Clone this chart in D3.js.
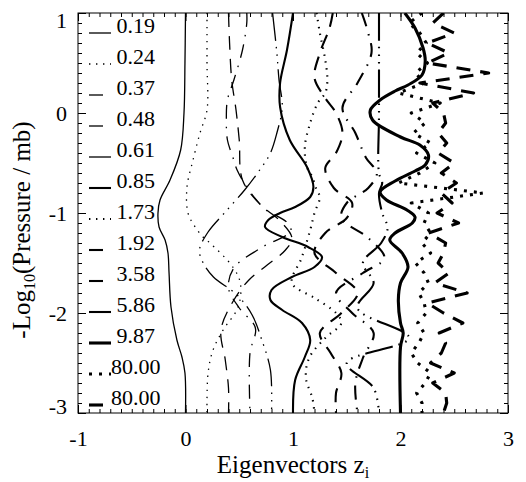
<!DOCTYPE html>
<html>
<head>
<meta charset="utf-8">
<script src="https://cdn.jsdelivr.net/npm/d3@7"></script>
<style>
  body { margin: 0; background: #fff; }
  svg text { font-family: "Liberation Serif", "Tinos", "DejaVu Serif", "Times New Roman", serif; }
</style>
</head>
<body>
<svg id="chart" width="526" height="482"></svg>
<script>
// eigenvalues shown in the legend, one per curve
const eigenvalues = [0.19, 0.24, 0.37, 0.48, 0.61, 0.85, 1.73, 1.92, 3.58, 5.86, 9.87, 80.00, 80.00]
// horizontal offset added to each eigenvector
const offsets = [0, 0.2, 0.4, 0.6, 0.8, 1.0, 1.2, 1.4, 1.6, 1.8, 2.0, 2.2, 2.4]

const xTicks = [-1, 0, 1, 2, 3]
const yTicks = [1, 0, -1, -2, -3]

// smooth eigenvectors: [-log10(p), z]
const ev0 = [[1,0],[0.5,-0.005],[0,-0.014],[-0.37,-0.045],[-0.67,-0.144],[-0.87,-0.237],[-1.0,-0.256],[-1.14,-0.246],[-1.27,-0.19],[-1.4,-0.163],[-1.6,-0.153],[-1.94,-0.135],[-2.27,-0.08],[-2.44,-0.033],[-2.6,-0.005],[-3,0]]
const ev1 = [[1,0],[0.5,0],[0.03,0],[-0.2,-0.065],[-0.47,-0.13],[-0.74,-0.186],[-1.0,-0.177],[-1.14,-0.11],[-1.24,-0.037],[-1.3,0.028],[-1.54,0.24],[-1.7,0.31],[-1.94,0.29],[-2.17,0.15],[-2.37,0.056],[-2.6,0.01],[-3,0]]
const ev2 = [[1,0],[0.7,0.01],[0.33,0.03],[0.03,0.07],[-0.27,0.1],[-0.67,0.13],[-0.92,0.3],[-1.07,0.47],[-1.25,0.59],[-1.37,0.53],[-1.52,0.36],[-1.67,0.19],[-1.87,0.05],[-2.17,-0.07],[-2.47,-0.03],[-2.75,0],[-3,0]]
const ev3 = [[1,-0.03],[0.9,-0.03],[0.63,-0.07],[0.33,-0.15],[0.13,-0.21],[-0.07,-0.22],[-0.27,-0.21],[-0.44,-0.16],[-0.57,-0.12],[-0.74,-0.03],[-0.87,0.06],[-0.97,0.15],[-1.09,0.34],[-1.18,0.38],[-1.35,0.1],[-1.55,-0.15],[-1.75,-0.2],[-1.95,-0.1],[-2.15,0.05],[-2.4,0.0],[-3,0]]
const ev4 = [[1,0.01],[0.6,0.05],[0.33,0.07],[0.06,0.1],[-0.2,0.05],[-0.4,-0.01],[-0.57,-0.11],[-0.77,-0.25],[-0.99,-0.43],[-1.19,-0.59],[-1.37,-0.67],[-1.49,-0.64],[-1.64,-0.54],[-1.82,-0.32],[-2.02,-0.18],[-2.27,-0.09],[-2.57,-0.01],[-3,0]]
const ev5 = [[1,0],[0.63,-0.056],[0.3,-0.12],[0.06,-0.12],[-0.27,-0.03],[-0.54,0.13],[-0.74,0.19],[-0.84,0.16],[-0.94,0.02],[-1.0,-0.12],[-1.07,-0.23],[-1.14,-0.26],[-1.24,-0.1],[-1.34,0.14],[-1.44,0.27],[-1.54,0.2],[-1.64,-0.01],[-1.77,-0.2],[-1.87,-0.21],[-1.97,-0.1],[-2.1,0.084],[-2.27,0.16],[-2.44,0.11],[-2.67,0.02],[-3,0]]
const ev6 = [[1,0.02],[0.8,0.05],[0.53,0.1],[0.33,0.12],[0.2,0.1],[0.1,0.03],[-0.1,-0.04],[-0.34,-0.09],[-0.54,-0.07],[-0.64,-0.02],[-0.77,0.02],[-0.84,0.05],[-1.0,0.0],[-1.17,-0.04],[-1.45,-0.12],[-1.7,-0.21],[-1.85,0.0],[-2.0,0.2],[-2.1,0.25],[-2.25,0.1],[-2.45,-0.05],[-2.65,-0.08],[-2.85,-0.02],[-3,0]]
const ev7 = [[1,-0.03],[0.85,-0.06],[0.6,-0.15],[0.35,-0.2],[0.15,-0.1],[0,0.0],[-0.2,0.06],[-0.4,0.0],[-0.55,-0.1],[-0.75,-0.02],[-0.9,0.15],[-1.05,0.1],[-1.2,-0.1],[-1.4,-0.2],[-1.6,0.0],[-1.8,0.2],[-2.0,0.05],[-2.2,-0.15],[-2.4,-0.05],[-2.6,0.05],[-2.8,0],[-3,0]]
const ev8 = [[1,0.04],[0.8,0.1],[0.6,0.13],[0.3,0.0],[0.05,-0.14],[-0.2,-0.02],[-0.45,0.08],[-0.6,0.18],[-0.75,0.1],[-0.9,-0.1],[-1.05,-0.15],[-1.25,0.1],[-1.45,0.25],[-1.6,0.05],[-1.8,-0.2],[-2.0,-0.05],[-2.2,0.15],[-2.45,0.05],[-2.7,-0.02],[-3,0]]
const ev9 = [[1,0],[0,0],[-0.6,0.0],[-0.7,0.03],[-0.8,0.0],[-1.0,0.03],[-1.15,0.08],[-1.3,0.02],[-1.5,-0.15],[-1.7,-0.05],[-1.95,-0.2],[-2.25,0.28],[-2.5,-0.3],[-2.75,-0.05],[-3,0]]
const ev10 = [[1,0.04],[0.85,0.135],[0.65,0.21],[0.52,0.23],[0.38,0.2],[0.28,0.07],[0.22,-0.05],[0.13,-0.19],[0.03,-0.28],[-0.07,-0.26],[-0.24,0.0],[-0.32,0.18],[-0.42,0.26],[-0.52,0.23],[-0.58,0.135],[-0.68,-0.05],[-0.79,-0.19],[-0.87,-0.13],[-0.97,0.06],[-1.04,0.135],[-1.1,0.11],[-1.2,-0.05],[-1.27,-0.1],[-1.4,0.015],[-1.54,0.07],[-1.7,0.0],[-1.87,-0.02],[-2.1,0.0],[-2.2,0.025],[-2.34,0.0],[-3,0]]

// the two largest eigenvalues: values on every 0.1 level in -log p, from 1 down to -3
const ev11 = [0.0,-0.12,-0.02,0.04,-0.05,0.05,-0.06,0.02,-0.22,0.17,-0.1,0.03,-0.08,0.08,-0.05,0.12,-0.02,-0.22,0.57,-0.1,0.06,0.02,0.08,0.0,0.08,-0.06,0.02,0.06,-0.03,0.02,0.04,-0.04,0.02,-0.03,-0.1,-0.04,0.08,0.03,-0.05,0.0,0.0]
const ev12 = [0.0,-0.1,0.1,-0.15,0.05,-0.15,0.42,-0.22,0.28,-0.1,0.0,0.02,-0.05,0.03,-0.05,0.1,-0.02,0.12,-0.02,0.08,-0.06,0.14,-0.14,0.02,0.0,-0.05,0.05,-0.08,0.22,-0.15,0.0,0.18,-0.04,0.02,-0.02,-0.12,0.1,-0.1,0.02,0.03,0.0]
const levels = d3.range(0, ev11.length).map(k => 1 - 0.1 * k)

const curves = [ev0, ev1, ev2, ev3, ev4, ev5, ev6, ev7, ev8, ev9, ev10,
  ev11.map((v, k) => [levels[k], v]), ev12.map((v, k) => [levels[k], v])]

// IDL style linestyles: solid, dotted, dashed, dash-dot, dash-dot-dot-dot
const dashThin = [null, "1.4,5.6", "14,9", "14,8,1.5,8", "28,6,1.5,6,1.5,6,1.5,6"]
const dashThick = [null, "3,7", "14,10"]
const widths = [1.3, 2.1, 3.1]

function styleOf(i) {
  const group = Math.floor(i / 5)
  const dash = group === 2 ? dashThick[i % 5] : dashThin[i % 5]
  return {dash: dash, width: widths[group]}
}

const svg = d3.select("#chart")
const x = d3.scaleLinear().domain([-1, 3]).range([78, 508])
const y = d3.scaleLinear().domain([-3, 1]).range([413, 13])

const font = "Liberation Serif, Tinos, DejaVu Serif, Times New Roman, serif"

// curves
svg.append("clipPath").attr("id", "plotclip")
  .append("rect").attr("x", 78).attr("y", 13).attr("width", 430).attr("height", 400)

const smooth = d3.line()
  .x(d => d[0])
  .y(d => d[1])
  .curve(d3.curveCatmullRom.alpha(0.5))
const straight = d3.line().x(d => d[0]).y(d => d[1])

const gCurves = svg.append("g").attr("clip-path", "url(#plotclip)")
curves.forEach((c, i) => {
  const st = styleOf(i)
  const pts = c.map(d => [x(offsets[i] + d[1]), y(d[0])])
  gCurves.append("path")
    .attr("d", i >= 11 ? straight(pts) : smooth(pts))
    .attr("fill", "none")
    .attr("stroke", "#000")
    .attr("stroke-width", st.width)
    .attr("stroke-dasharray", st.dash)
    .attr("stroke-linejoin", "round")
})

// axes: major and minor ticks on all four sides, pointing inward
function drawAxis(axisFn, scale, pos, major, labels) {
  const minor = d3.range(scale.domain()[0], scale.domain()[1] + 1e-9, 0.1)
  const gMin = svg.append("g").attr("transform", pos)
    .call(axisFn(scale).tickValues(minor).tickSize(-4).tickFormat(""))
  const gMaj = svg.append("g").attr("transform", pos)
    .call(axisFn(scale).tickValues(major).tickSize(-8).tickFormat(labels ? d => String(d) : ""))
  ;[gMin, gMaj].forEach(g => {
    g.select(".domain").remove()
    g.attr("font-family", null)
    g.selectAll("line").attr("stroke", "#000").attr("stroke-width", 1)
  })
  return gMaj
}

const bottom = drawAxis(d3.axisBottom, x, "translate(0,413)", xTicks, true)
bottom.selectAll("text")
  .attr("y", 33).attr("dy", null)
  .attr("font-size", 22).attr("font-family", font).attr("fill", "#000")
drawAxis(d3.axisTop, x, "translate(0,13)", xTicks, false)
const left = drawAxis(d3.axisLeft, y, "translate(78,0)", yTicks, true)
// end labels sit just inside the axis range, as in the original plot
left.selectAll("text")
  .attr("x", -11)
  .attr("dy", d => d === 1 ? "0.66em" : d === -3 ? "0.0em" : "0.34em")
  .attr("font-size", 22).attr("font-family", font).attr("fill", "#000")
drawAxis(d3.axisRight, y, "translate(508,0)", yTicks, false)

svg.append("rect")
  .attr("x", 78).attr("y", 13).attr("width", 430).attr("height", 400)
  .attr("fill", "none").attr("stroke", "#000").attr("stroke-width", 1)

// legend
const legend = svg.append("g")
eigenvalues.forEach((ev, i) => {
  const st = styleOf(i)
  const yb = 33 + 31 * i
  legend.append("line")
    .attr("x1", 89).attr("x2", 111).attr("y1", yb).attr("y2", yb)
    .attr("stroke", "#000").attr("stroke-width", st.width)
    .attr("stroke-dasharray", st.dash)
  legend.append("text")
    .attr("x", 111).attr("y", yb)
    .style("white-space", "pre")
    .attr("font-size", 22).attr("font-family", font)
    .text(d3.format("5.2f")(ev))
})

// axis titles
const xt = svg.append("text")
  .attr("x", 293).attr("y", 473).attr("text-anchor", "middle")
  .attr("font-size", 25).attr("font-family", font)
xt.append("tspan").text("Eigenvectors z")
xt.append("tspan").attr("font-size", 16).attr("dy", 5).text("i")

const yt = svg.append("text")
  .attr("transform", "translate(30,230) rotate(-90)")
  .attr("text-anchor", "middle")
  .attr("font-size", 25).attr("font-family", font)
yt.append("tspan").text("-Log")
yt.append("tspan").attr("font-size", 16).attr("dy", 5).text("10")
yt.append("tspan").attr("dy", -5).text("(Pressure / mb)")
</script>
</body>
</html>
